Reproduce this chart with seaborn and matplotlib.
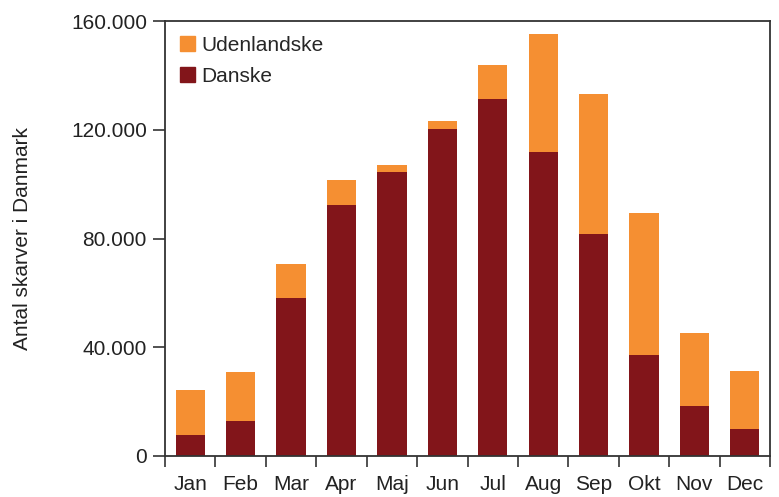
import matplotlib
matplotlib.use("Agg")
import matplotlib.pyplot as plt
import seaborn as sns
import pandas as pd
import numpy as np
from matplotlib.patches import Patch
from matplotlib.ticker import FuncFormatter, FixedLocator

months = ["Jan", "Feb", "Mar", "Apr", "Maj", "Jun", "Jul", "Aug", "Sep", "Okt", "Nov", "Dec"]
danske = [7700, 12900, 58000, 92300, 104400, 120200, 131300, 111800, 81600, 37100, 18400, 9900]
udenlandske = [16600, 18000, 12600, 9200, 2600, 3000, 12500, 43300, 51500, 52200, 26800, 21300]
yticks = [0, 40000, 80000, 120000, 160000]

c_dk = "#82151A"
c_ud = "#F58F32"

sns.set_theme(style="white")
plt.rcParams['font.family'] = ['Liberation Sans', 'DejaVu Sans']

df = pd.DataFrame({"month": months, "danske": danske,
                   "total": np.array(danske) + np.array(udenlandske)})

fig = plt.figure(figsize=(7.79, 4.97), dpi=100)
ax = fig.add_axes([0.2118, 0.0825, 0.9885 - 0.2118, 0.9577 - 0.0825])

sns.barplot(data=df, x="month", y="total", color=c_ud, saturation=1, width=0.58,
            linewidth=0, edgecolor="none", ax=ax)
sns.barplot(data=df, x="month", y="danske", color=c_dk, saturation=1, width=0.58,
            linewidth=0, edgecolor="none", ax=ax)

ax.set_xlim(-0.5, 11.5)
ax.set_ylim(0, 160000)
ax.set_yticks(yticks)
ax.yaxis.set_major_formatter(FuncFormatter(lambda v, p: f"{int(v):,}".replace(",", ".")))
ax.set_xlabel("")
ax.set_ylabel("Antal skarver i Danmark", fontsize=15, color="#222222", labelpad=28)

ax.xaxis.set_minor_locator(FixedLocator(np.arange(-0.5, 12, 1)))
ax.tick_params(axis="x", which="major", length=0, labelsize=15, colors="#222222", pad=14)
ax.tick_params(axis="x", which="minor", length=8, width=1.2, color="#333333", direction="out", bottom=True)
ax.tick_params(axis="y", which="major", length=9, width=1.2, color="#333333", direction="out",
               labelsize=15, labelcolor="#222222", left=True, pad=4)

for s in ax.spines.values():
    s.set_visible(True)
    s.set_color("#333333")
    s.set_linewidth(1.3)

handles = [Patch(color=c_ud, label="Udenlandske"), Patch(color=c_dk, label="Danske")]
ax.legend(handles=handles, loc="upper left", frameon=False, fontsize=15,
          handlelength=0.75, handleheight=0.75, handletextpad=0.3,
          labelspacing=0.6, borderaxespad=0.3, bbox_to_anchor=(0.0, 1.0))

fig.savefig("out.png", dpi=100)
